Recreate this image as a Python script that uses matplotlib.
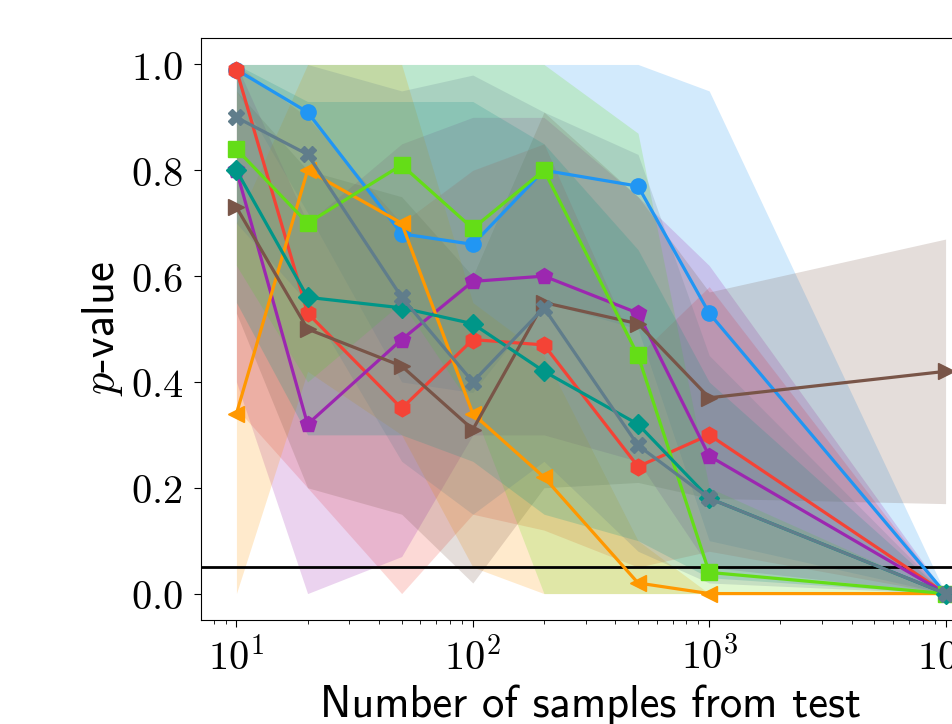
import numpy as np
import matplotlib
matplotlib.use("Agg")
from matplotlib import pyplot as plt
from matplotlib.ticker import FuncFormatter, NullFormatter

plt.rcParams['mathtext.fontset'] = 'cm'
plt.rcParams['axes.unicode_minus'] = False

# sample sizes drawn from the test set
n_samples = [10, 20, 50, 100, 200, 500, 1000, 10000]

# mean p-value and band (lower / upper) for every method
blue_mean = [0.99, 0.91, 0.68, 0.66, 0.80, 0.77, 0.53, 0.0]
blue_lo = [0.95, 0.72, 0.40, 0.38, 0.55, 0.50, 0.10, 0.0]
blue_hi = [1.0, 1.0, 1.0, 1.0, 1.0, 1.0, 0.95, 0.0]

red_mean = [0.99, 0.53, 0.35, 0.48, 0.47, 0.24, 0.30, 0.0]
red_lo = [0.35, 0.20, 0.0, 0.15, 0.12, 0.05, 0.08, 0.0]
red_hi = [1.0, 0.90, 0.70, 0.80, 0.85, 0.45, 0.58, 0.0]

purple_mean = [0.80, 0.32, 0.48, 0.59, 0.60, 0.53, 0.26, 0.0]
purple_lo = [0.40, 0.0, 0.07, 0.30, 0.30, 0.25, 0.05, 0.0]
purple_hi = [1.0, 0.70, 0.85, 0.90, 0.90, 0.75, 0.62, 0.0]

orange_mean = [0.34, 0.80, 0.70, 0.34, 0.22, 0.02, 0.0, 0.0]
orange_lo = [0.0, 0.42, 0.30, 0.05, 0.0, 0.0, 0.0, 0.0]
orange_hi = [0.70, 1.0, 1.0, 0.55, 0.45, 0.10, 0.0, 0.0]

brown_mean = [0.73, 0.50, 0.43, 0.31, 0.55, 0.51, 0.37, 0.42]
brown_lo = [0.53, 0.20, 0.15, 0.02, 0.20, 0.21, 0.18, 0.17]
brown_hi = [0.95, 0.80, 0.75, 0.60, 0.91, 0.75, 0.57, 0.67]

green_mean = [0.84, 0.70, 0.81, 0.69, 0.80, 0.45, 0.04, 0.0]
green_lo = [0.62, 0.40, 0.55, 0.35, 0.0, 0.0, 0.0, 0.0]
green_hi = [1.0, 1.0, 1.0, 1.0, 1.0, 0.87, 0.20, 0.0]

teal_mean = [0.80, 0.56, 0.54, 0.51, 0.42, 0.32, 0.18, 0.0]
teal_lo = [0.55, 0.30, 0.30, 0.25, 0.15, 0.10, 0.03, 0.0]
teal_hi = [1.0, 0.93, 0.93, 0.93, 0.85, 0.65, 0.40, 0.0]

grey_mean = [0.90, 0.83, 0.56, 0.40, 0.54, 0.28, 0.18, 0.0]
grey_lo = [0.70, 0.55, 0.25, 0.15, 0.25, 0.08, 0.02, 0.0]
grey_hi = [1.0, 1.0, 0.95, 0.98, 0.91, 0.83, 0.45, 0.0]

series = [
    (blue_mean, blue_lo, blue_hi, '#2196F3', 'o'),
    (red_mean, red_lo, red_hi, '#F44336', 'h'),
    (purple_mean, purple_lo, purple_hi, '#9C27B0', 'p'),
    (orange_mean, orange_lo, orange_hi, '#FF9800', '<'),
    (brown_mean, brown_lo, brown_hi, '#795548', '>'),
    (green_mean, green_lo, green_hi, '#64DD17', 's'),
    (teal_mean, teal_lo, teal_hi, '#009688', 'D'),
    (grey_mean, grey_lo, grey_hi, '#607D8B', 'X'),
]
marker_sizes = {'o': 11, 'h': 12, 'p': 12, '<': 12, '>': 12, 's': 11, 'D': 10, 'X': 12}

fig = plt.figure(figsize=(9.52, 7.24), dpi=100)
# the axes run a little past the right edge of the figure
ax = fig.add_axes([0.2111, 0.1436, 0.8194, 0.8039])

for mean, lo, hi, color, marker in series:
    ax.fill_between(n_samples, lo, hi, color=color, alpha=0.2, linewidth=0, zorder=1)
for mean, lo, hi, color, marker in series:
    ax.plot(n_samples, mean, marker=marker, color=color, linewidth=2.3,
            markersize=marker_sizes[marker], zorder=3)

ax.axhline(0.05, color='black', linewidth=2, zorder=2)

ax.set_xscale('log')
ax.xaxis.set_major_formatter(FuncFormatter(lambda v, p: '$10^{%d}$' % round(np.log10(v))))
ax.xaxis.set_minor_formatter(NullFormatter())
ax.set_yticks([0.0, 0.2, 0.4, 0.6, 0.8, 1.0])
ax.yaxis.set_major_formatter(FuncFormatter(lambda v, p: '$%.1f$' % v))
ax.tick_params(axis='both', which='major', labelsize=29, length=5, pad=8)
ax.tick_params(axis='x', which='minor', length=3)

ax.set_xlabel('Number of samples from test', family='cmss10', fontsize=32)
ax.set_ylabel('$p$-value', family='cmss10', fontsize=32)

fig.savefig('out.png', dpi=100)
